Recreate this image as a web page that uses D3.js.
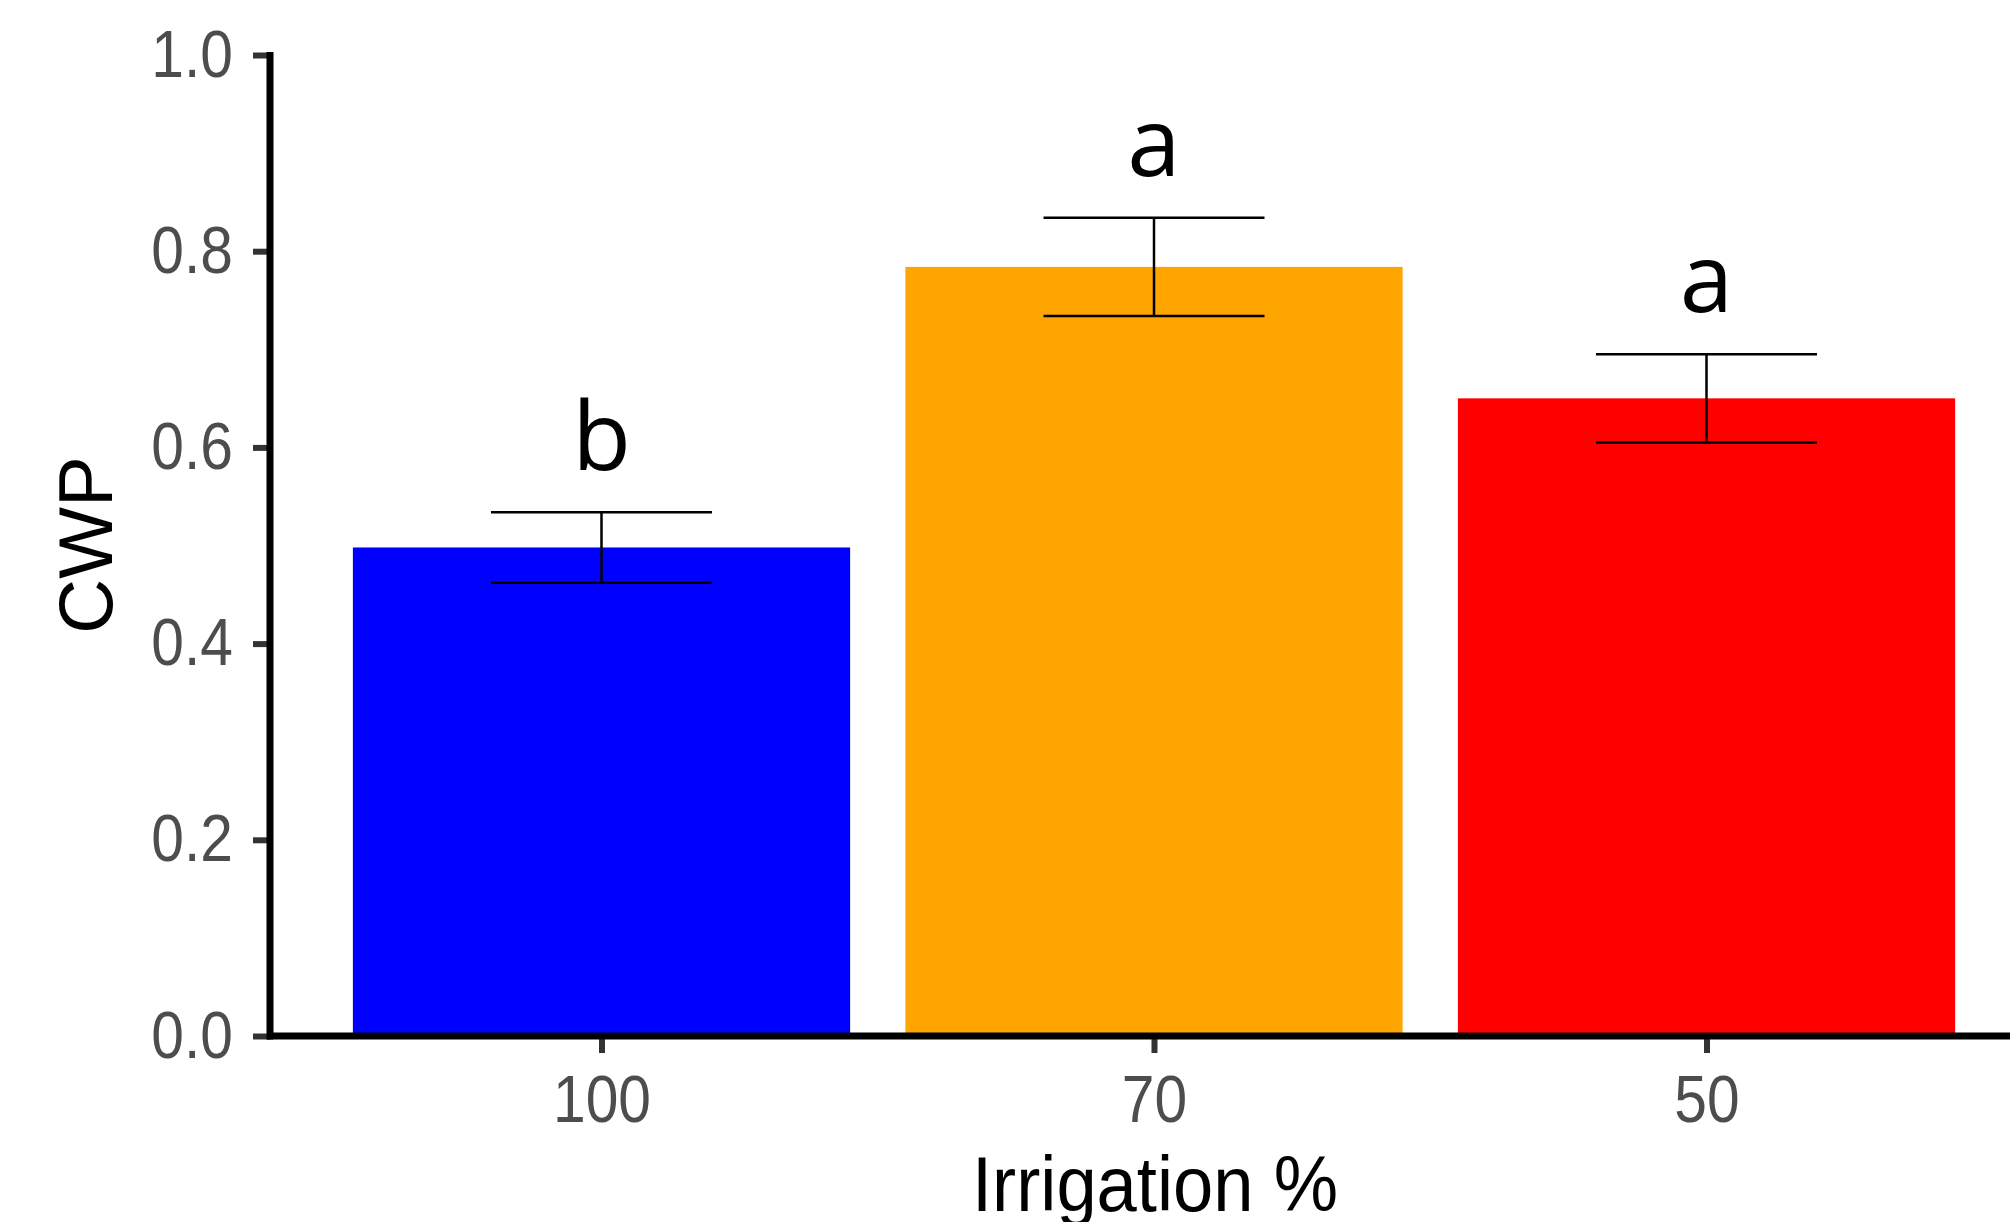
<!DOCTYPE html>
<html>
<head>
<meta charset="utf-8">
<script src="https://cdn.jsdelivr.net/npm/d3@7"></script>
<style>
  html, body { margin: 0; padding: 0; background: #fff; }
  svg { display: block; }
</style>
</head>
<body>
<svg id="chart" width="2010" height="1222"></svg>
<script>
// ---- data ----
const categories = ["100", "70", "50"];
const meanValues = [0.498, 0.784, 0.650];
const seValues = [0.036, 0.050, 0.045];
const letters = ["b", "a", "a"];
const barColors = ["#0000FF", "#FFA500", "#FF0000"];
const yTicks = [0.0, 0.2, 0.4, 0.6, 0.8, 1.0];
const yTickLabels = ["0.0", "0.2", "0.4", "0.6", "0.8", "1.0"];
const xTitle = "Irrigation %";
const yTitle = "CWP";

const data = categories.map((c, i) => ({
  cat: c, mean: meanValues[i], se: seValues[i], letter: letters[i], color: barColors[i]
}));

const svg = d3.select("#chart");

const x = d3.scalePoint().domain(categories).range([270, 2038]).padding(0.6);
const y = d3.scaleLinear().domain([0, 1]).range([1036, 55]);
const step = x.step();
const barW = step * 0.9;
const capW = step * 0.4;

// bars
svg.append("g").selectAll("rect").data(data).join("rect")
  .attr("x", d => x(d.cat) - barW / 2)
  .attr("y", d => y(d.mean))
  .attr("width", barW)
  .attr("height", d => y(0) - y(d.mean))
  .attr("fill", d => d.color);

// error bars
const eb = svg.append("g").attr("stroke", "#000").attr("stroke-width", 2.5).attr("fill", "none");
eb.selectAll("line.v").data(data).join("line").attr("class", "v")
  .attr("x1", d => x(d.cat)).attr("x2", d => x(d.cat))
  .attr("y1", d => y(d.mean + d.se)).attr("y2", d => y(d.mean - d.se));
eb.selectAll("line.t").data(data).join("line").attr("class", "t")
  .attr("x1", d => x(d.cat) - capW / 2).attr("x2", d => x(d.cat) + capW / 2)
  .attr("y1", d => y(d.mean + d.se)).attr("y2", d => y(d.mean + d.se));
eb.selectAll("line.b").data(data).join("line").attr("class", "b")
  .attr("x1", d => x(d.cat) - capW / 2).attr("x2", d => x(d.cat) + capW / 2)
  .attr("y1", d => y(d.mean - d.se)).attr("y2", d => y(d.mean - d.se));

// letters
svg.append("g").selectAll("text").data(data).join("text")
  .attr("x", d => x(d.cat))
  .attr("y", d => y(d.mean + d.se) - 42)
  .attr("text-anchor", "middle")
  .attr("font-family", "'Open Sans', sans-serif")
  .attr("font-size", 96)
  .attr("fill", "#000")
  .text(d => d.letter);

function narrow(sel, f) {
  sel.each(function () {
    const w = this.getComputedTextLength();
    d3.select(this).attr("textLength", w * f).attr("lengthAdjust", "spacingAndGlyphs");
  });
}

// y axis
const yAxis = svg.append("g").attr("transform", "translate(270,0)")
  .call(d3.axisLeft(y).tickValues(yTicks).tickFormat((d, i) => yTickLabels[i]).tickSize(17).tickPadding(20));
yAxis.select(".domain").remove();
yAxis.selectAll(".tick line").attr("stroke", "#333333").attr("stroke-width", 6);
yAxis.selectAll(".tick text")
  .attr("font-family", "'Liberation Sans', Arial, sans-serif")
  .attr("font-size", 66).attr("fill", "#4D4D4D");
narrow(yAxis.selectAll(".tick text"), 0.89);

// x axis
const xAxis = svg.append("g").attr("transform", "translate(0,1036)")
  .call(d3.axisBottom(x).tickSize(17).tickPadding(22));
xAxis.select(".domain").remove();
xAxis.selectAll(".tick line").attr("stroke", "#333333").attr("stroke-width", 6);
xAxis.selectAll(".tick text")
  .attr("font-family", "'Liberation Sans', Arial, sans-serif")
  .attr("font-size", 66).attr("fill", "#4D4D4D");
narrow(xAxis.selectAll(".tick text"), 0.89);

// axis lines
svg.append("line").attr("x1", 267).attr("x2", 2010).attr("y1", y(0)).attr("y2", y(0))
  .attr("stroke", "#000").attr("stroke-width", 7);
svg.append("line").attr("x1", 270).attr("x2", 270).attr("y1", y(0) + 3.5).attr("y2", y(1) - 3)
  .attr("stroke", "#000").attr("stroke-width", 7);

// axis titles
const xt = svg.append("text")
  .attr("x", 1155).attr("y", 1211)
  .attr("text-anchor", "middle")
  .attr("font-family", "'Liberation Sans', Arial, sans-serif")
  .attr("font-size", 78).attr("fill", "#000")
  .text(xTitle);
xt.attr("textLength", 366).attr("lengthAdjust", "spacingAndGlyphs");

svg.append("text")
  .attr("transform", "translate(112,545) rotate(-90)")
  .attr("text-anchor", "middle")
  .attr("font-family", "'Liberation Sans', Arial, sans-serif")
  .attr("font-size", 76).attr("fill", "#000")
  .text(yTitle);
</script>
</body>
</html>
